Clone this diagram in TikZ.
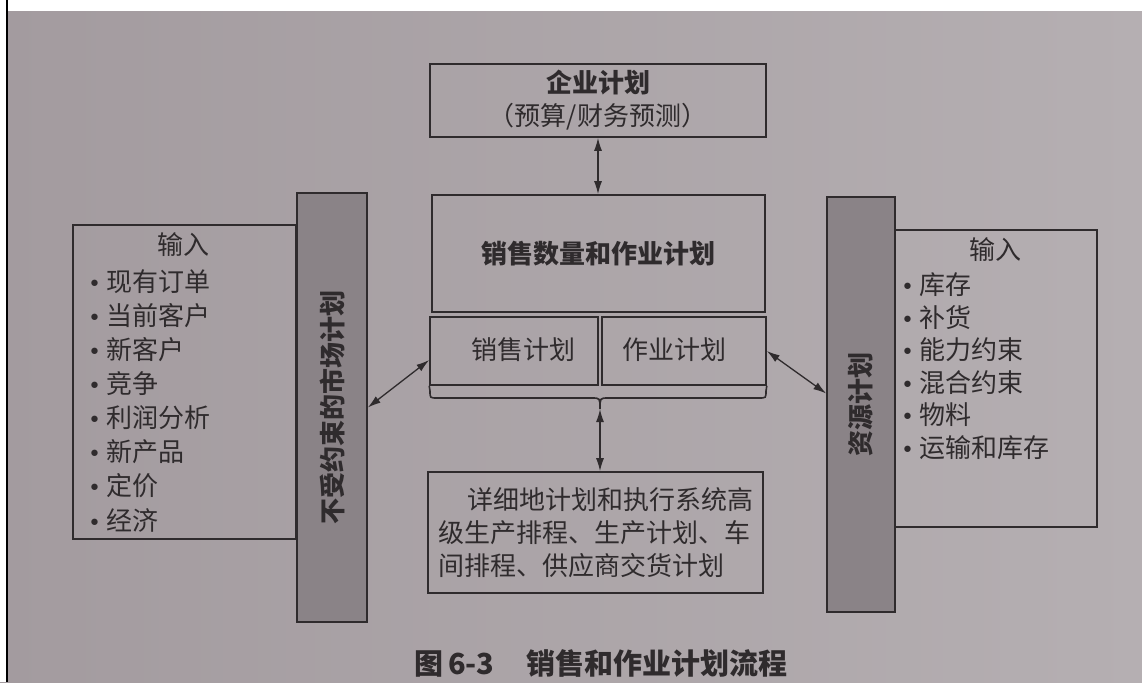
\documentclass[tikz,border=0pt]{standalone}
\usepackage{fontspec}
\setmainfont{Noto Sans CJK SC}
\newfontfamily\dotfont{DejaVu Sans}
\usepackage{tikz}
\usetikzlibrary{arrows.meta,positioning,calc}
\definecolor{PaperGray}{HTML}{A39B9F}
\definecolor{PaperLight}{HTML}{B5AFB2}
\definecolor{BarGray}{HTML}{8A8387}
\definecolor{InkDark}{HTML}{2F2B2D}

\begin{document}
\begin{tikzpicture}[x=1pt, y=-1pt,
    box/.style={draw=InkDark, line width=1.6pt, inner sep=0pt},
    bar/.style={draw=InkDark, line width=1.6pt, fill=BarGray, inner sep=0pt},
    txt/.style={text=InkDark, font=\fontsize{26}{33}\selectfont, inner sep=0pt},
    wire/.style={draw=InkDark, line width=1.6pt},
    link/.style={draw=InkDark, line width=1.3pt, {Latex[length=13pt,width=8pt]}-{Latex[length=13pt,width=8pt]}}
]
    \useasboundingbox (0,0) rectangle (1142,682);
    \shade[left color=PaperGray, right color=PaperLight] (0,0) rectangle (1142,682);
    \fill[white] (0,0) rectangle (1142,11);
    \fill[white] (0,0) rectangle (6,682);
    \draw[black, line width=2pt] (7,0) -- (7,682);

    \node[box, txt, draw=InkDark, minimum width=336pt, minimum height=73pt, align=center] (plan) at (598,100.5)
        {{\bfseries 企业计划}\\（预算/财务预测）};
    \node[box, txt, draw=InkDark, minimum width=333pt, minimum height=117pt, font=\fontsize{26}{33}\selectfont\bfseries] (sop) at (598.5,253.5) {销售数量和作业计划};
    \node[box, minimum width=168pt, minimum height=68pt] (sales) at (514,351) {};
    \node[box, minimum width=164pt, minimum height=68pt] (ops) at (684,351) {};
    \node[txt] (saleslbl) at (523,350) {销售计划};
    \node[txt] (opslbl) at (674,350) {作业计划};
    \node[box, txt, draw=InkDark, minimum width=335pt, minimum height=121pt, align=left] (detail) at (595.5,532.5)
        {\hspace*{29pt}详细地计划和执行系统高\\级生产排程、生产计划、车\\间排程、供应商交货计划};

    \coordinate (tip) at (600,409);
    \draw[wire] (sales.south west) -- (430,391) .. controls (430,398) .. (437,398) -- (592,398)
        .. controls (600,398) .. (tip) .. controls (600,398) .. (608,398) -- (759,398)
        .. controls (766,398) .. (766,391) -- (ops.south east);

    \node[box, minimum width=223pt, minimum height=314pt] (mktin) at (184.5,382) {};
    \node[bar, minimum width=70pt, minimum height=429pt] (mktbar) at (332,407.5) {};
    \node[txt, rotate=90, font=\fontsize{26}{33}\selectfont\bfseries] (mktlbl) at (mktbar) {不受约束的市场计划};
    \node[txt] (mkttitle) at (183,245) {输入};
    \foreach \item [count=\i] in {现有订单,当前客户,新客户,竞争,利润分析,新产品,定价,经济}
        \node[txt, anchor=west] (mkt\i) at (88,{248+34*\i}) {{\dotfont\fontsize{22}{24}\selectfont •}\hspace{5pt}\item};

    \node[box, minimum width=202pt, minimum height=297pt] (resin) at (996,378.5) {};
    \node[bar, minimum width=68pt, minimum height=415pt] (resbar) at (861,404.5) {};
    \node[txt, rotate=90, font=\fontsize{26}{33}\selectfont\bfseries] (reslbl) at (resbar) {资源计划};
    \node[txt] (restitle) at (995,250) {输入};
    \foreach \item [count=\i] in {库存,补货,能力约束,混合约束,物料,运输和库存}
        \node[txt, anchor=west] (res\i) at (901,{252.5+32.5*\i}) {{\dotfont\fontsize{22}{24}\selectfont •}\hspace{5pt}\item};

    \draw[link] (plan.south) -- (plan.south |- sop.north);
    \draw[link] (tip) -- (tip |- detail.north);
    \draw[link] ([yshift=-9pt]sales.west) -- (mktbar.east);
    \draw[link] (ops.east) -- ([yshift=11pt]resbar.west);

    \node[txt, anchor=west, font=\fontsize{29}{31}\selectfont\bfseries] (caption) at (414,663)
        {图\,6-3\hspace{32pt}销售和作业计划流程};
\end{tikzpicture}
\end{document}
